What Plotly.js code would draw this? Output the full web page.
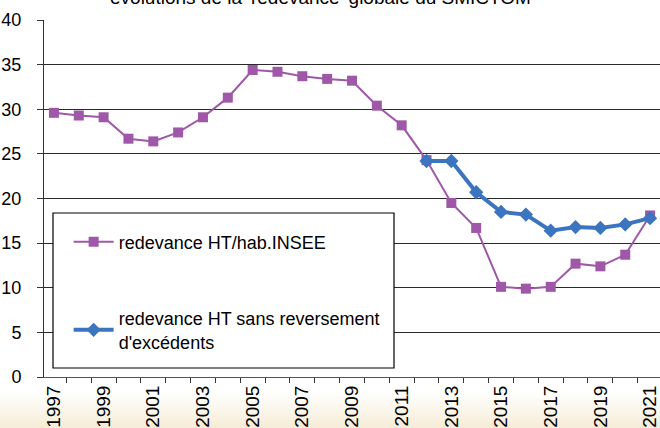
<!DOCTYPE html>
<html>
<head>
<meta charset="utf-8">
<script src="https://cdn.plot.ly/plotly-3.0.1.min.js"></script>
<style>
html,body{margin:0;padding:0;width:660px;height:428px;overflow:hidden;
background:linear-gradient(to bottom,#ffffff 0px,#ffffff 392px,#f6ecd6 428px);}
#chart{width:660px;height:428px;}
</style>
</head>
<body>
<div id="chart"></div>
<script>
const years = [1997,1998,1999,2000,2001,2002,2003,2004,2005,2006,2007,2008,2009,2010,2011,2012,2013,2014,2015,2016,2017,2018,2019,2020,2021];
const redevanceHab = [29.6,29.3,29.1,26.7,26.4,27.4,29.1,31.3,34.4,34.2,33.7,33.4,33.2,30.4,28.2,24.3,19.5,16.7,10.1,9.9,10.1,12.7,12.4,13.7,18.1];
const yearsSans = [2012,2013,2014,2015,2016,2017,2018,2019,2020,2021];
const redevanceSans = [24.2,24.2,20.7,18.5,18.2,16.4,16.8,16.7,17.1,17.8];
const tickYears = [1997,1999,2001,2003,2005,2007,2009,2011,2013,2015,2017,2019,2021];
const tickLabels = ["1997","1999","2001","2003","2005","2007","2009","2011","2013","2015","2017","2019","2021"];
const boundaries = [1996.5,1997.5,1998.5,1999.5,2000.5,2001.5,2002.5,2003.5,2004.5,2005.5,2006.5,2007.5,2008.5,2009.5,2010.5,2011.5,2012.5,2013.5,2014.5,2015.5,2016.5,2017.5,2018.5,2019.5,2020.5,2021.5];
const titleText = "évolutions de la 'redevance' globale du SMICTOM";

const FONT = "'Liberation Sans Narrow','Arial Narrow','Liberation Sans',Arial,sans-serif";

const traces = [
  {x: years, y: redevanceHab, name: "redevance HT/hab.INSEE", type: "scatter", mode: "lines+markers",
   line: {color: "#9f57a8", width: 2}, marker: {symbol: "square", size: 10, color: "#9f57a8"},
   legendgroup: "a"},
  {x: yearsSans, y: redevanceSans, name: "redevance HT sans reversement<br>d'excédents", type: "scatter", mode: "lines+markers",
   line: {color: "#3b74bf", width: 4}, marker: {symbol: "diamond", size: 11, color: "#3b74bf"},
   legendgroup: "b"}
];

const layout = {
  width: 660, height: 428,
  margin: {l: 44, r: 0, t: 20, b: 51},
  paper_bgcolor: "rgba(0,0,0,0)",
  plot_bgcolor: "#ffffff",
  font: {family: FONT, size: 18, color: "#000"},
  showlegend: true,
  legend: {x: 0.04, y: 0.43, xanchor: "left", yanchor: "top", bgcolor: "rgba(0,0,0,0)",
           borderwidth: 0, tracegroupgap: 50, font: {family: FONT, size: 18, color: "#000"}, itemwidth: 40},
  xaxis: {range: [1996.6, 2021.4], tickmode: "array", tickvals: tickYears, ticktext: tickLabels,
          tickangle: -90, ticks: "", showgrid: false, zeroline: false, ticklabeloverflow: "allow",
          showline: true, linecolor: "#555", linewidth: 1, ticklabelstandoff: 0,
          tickfont: {family: FONT, size: 19, color: "#000"},
          minor: {tickmode: "array", tickvals: boundaries, ticks: "outside", ticklen: 5, tickcolor: "#333", tickwidth: 1, showgrid: false}},
  yaxis: {range: [0, 40], dtick: 5, tick0: 0, ticks: "outside", ticklen: 6, tickcolor: "#333",
          showgrid: true, gridcolor: "#2a2a2a", gridwidth: 1, zeroline: false,
          showline: true, linecolor: "#333", linewidth: 1, ticklabelstandoff: 12,
          tickfont: {family: FONT, size: 18, color: "#000"}},
  shapes: [
    {type: "rect", xref: "paper", yref: "paper", layer: "above",
     x0: (53-44)/616, x1: (394-44)/616, y0: (377-368)/357, y1: (377-213)/357,
     fillcolor: "#ffffff", line: {color: "#000", width: 1.2}}
  ],
  annotations: [
    {text: titleText, xref: "paper", yref: "paper", x: (320-44)/616, y: 1, xanchor: "center", yanchor: "bottom",
     yshift: 10, showarrow: false, font: {family: FONT, size: 19, color: "#000"}}
  ]
};

Plotly.newPlot("chart", traces, layout, {displayModeBar: false, staticPlot: true});
</script>
</body>
</html>
